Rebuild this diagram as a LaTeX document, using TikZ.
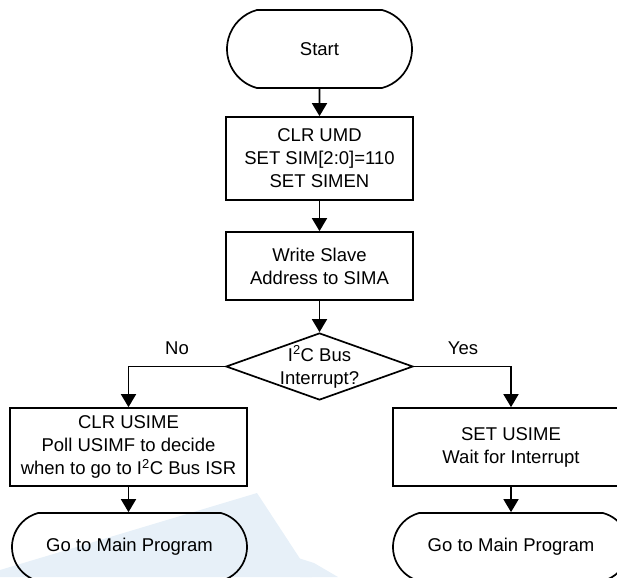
\documentclass[tikz,border=0pt]{standalone}
\usepackage{fontspec}
\setmainfont{Liberation Sans}
\usetikzlibrary{shapes.geometric,shapes.misc,arrows.meta}
\definecolor{wm}{RGB}{231,240,248}
\begin{document}
\begin{tikzpicture}[x=1pt,y=-1pt,
  font=\fontsize{18.5}{23}\selectfont,
  base/.style={draw=black, line width=1.7pt, align=center, inner sep=0pt},
  term/.style={base, rounded rectangle, rounded rectangle arc length=150},
  proc/.style={base, rectangle},
  decis/.style={base, diamond, minimum width=187pt, minimum height=67pt},
  txt/.style={align=center, inner sep=0pt},
  arr/.style={line width=1.7pt, -{Triangle[length=13pt,width=15pt]}}
]
\useasboundingbox (0,0) rectangle (617,577);
% watermark
\fill[wm] (0,570) -- (257,493) -- (312,577) -- (0,577) -- cycle;
\fill[wm] (292,556) -- (314,563) -- (338,577) -- (300,577) -- cycle;

\node[term, minimum width=185pt, minimum height=78pt] (start) at (319.5,49) {Start};
\node[proc, minimum width=187pt, minimum height=83pt] (b1) at (319.5,158.5)
  {CLR UMD\\SET SIM[2:0]=110\\SET SIMEN};
\node[proc, minimum width=187pt, minimum height=68pt] (b2) at (319.5,266)
  {Write Slave\\Address to SIMA};
\node[decis] (d) at (319.5,366.5) {};
\node[txt] (dtext) at (319.5,367) {I\textsuperscript{2}C Bus\\Interrupt?};
\node[proc, minimum width=237pt, minimum height=78pt] (lb) at (128.5,447)
  {CLR USIME\\Poll USIMF to decide\\when to go to I\textsuperscript{2}C Bus ISR};
\node[proc, minimum width=236pt, minimum height=78pt] (rb) at (511,447)
  {SET USIME\\Wait for Interrupt};
\node[term, minimum width=235pt, minimum height=68pt] (lt) at (129.5,547) {Go to Main Program};
\node[term, minimum width=236pt, minimum height=68pt] (rt) at (511,547) {Go to Main Program};
\node[txt] (lno) at (177,348) {No};
\node[txt] (lyes) at (463,348) {Yes};

\draw[arr] (start) -- (b1);
\draw[arr] (b1) -- (b2);
\draw[arr] (b2) -- (d);
\draw[arr] (d.west) -| (lb.north);
\draw[arr] (d.east) -| (rb.north);
\draw[arr] (lb) -- (lb |- lt.north);
\draw[arr] (rb) -- (rt);
\end{tikzpicture}
\end{document}
